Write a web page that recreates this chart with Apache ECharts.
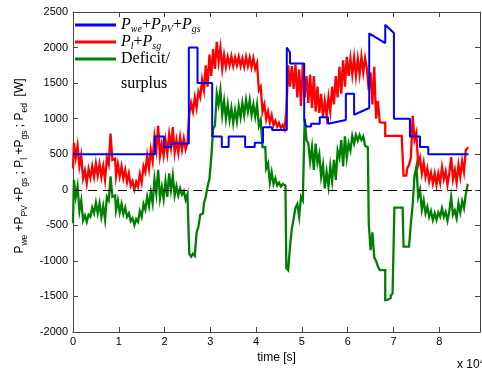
<!DOCTYPE html>
<html>
<head>
<meta charset="utf-8">
<script src="https://cdn.jsdelivr.net/npm/echarts@6/dist/echarts.min.js"></script>
<style>
  html, body { margin: 0; padding: 0; background: #fff; }
  #chart { width: 482px; height: 372px; }
</style>
</head>
<body>
<div id="chart"></div>
<script>
// Logged samples are 400 s apart, starting at t = 0 s.
const sampleStep = 400;

// P_l + P_sg  [W]
const loadPower = [
  300, 660, 450, 620, 330, 480, 160, 270, 90, 290,
  170, 330, 180, 370, 200, 360, 180, 330, 140, 450,
  360, 790, 420, 440, 190, 360, 190, 330, 160, 280,
  110, 230, 60, 120, 5, 110, 40, 220, 100, 330,
  250, 480, 300, 560, 400, 750, 560, 900, 480, 650,
  480, 700, 510, 780, 600, 880, 520, 700, 520, 740,
  560, 720, 570, 660, 1060, 1220, 1100, 1300, 1150, 1380,
  1300, 1550, 1400, 1750, 1450, 1900, 1600, 1980, 1700, 2080,
  1800, 2000, 1700, 1900, 1730, 1870, 1750, 1880, 1740, 1860,
  1750, 1870, 1740, 1850, 1730, 1870, 1740, 1860, 1720, 1850,
  1700, 1780, 1400, 1450, 1100, 1200, 990, 1100, 950, 1050,
  910, 970, 890, 940, 870, 910, 850, 1100, 1750, 1450,
  1740, 1420, 1760, 1300, 1690, 1180, 1780, 1300, 1600, 1220,
  1620, 1150, 1600, 1100, 1450, 1080, 1350, 1030, 1250, 1040,
  1300, 1100, 1450, 1200, 1600, 1300, 1730, 1350, 1820, 1450,
  1870, 1600, 1850, 1620, 1860, 1600, 1840, 1620, 1870, 1650,
  1850, 1700, 1400, 1650, 1200, 1730, 1000, 1250, 950, 945,
  945, 758, 758, 758, 758, 758, 758, 758, 758, 758,
  758, 200, 200, 300, 350, 450, 1040, 700, 800, 350,
  450, 230, 380, 180, 300, 120, 240, 90, 230, 70,
  230, 100, 320, 150, 260, 70, 240, 460, 150, 280,
  100, 350, 180, 400, 250, 560, 590
];

// Deficit / surplus  [W]
const surplusPower = [
  -470, 140, -100, 50, -300, -150, -430, -360, -450, -350,
  -380, -250, -330, -180, -330, -190, -380, -230, -420, -100,
  -150, 190, -100, -80, -290, -150, -320, -200, -340, -250,
  -380, -330, -440, -400, -495, -410, -450, -300, -380, -200,
  -280, -100, -230, -30, -190, 150, -50, 280, -120, 40,
  -130, 120, -100, 230, 0, 200, -80, 50, -80, 20,
  -70, -20, -140, -60, -900, -940, -900, -930, -600, -520,
  -350, -330, -190, -100, 50, 150, 450, 850, 900, 1350,
  1200, 1400, 1050, 1250, 1000, 1200, 980, 1150, 940, 1120,
  960, 1180, 1020, 1220, 1050, 1265, 1100, 1265, 1050, 1200,
  1030, 1200, 900, 980, 600, 600, 300, 370, 100, 250,
  80, 160, 60, 100, 45, 80, 60, -1100, -1130, -800,
  -550, -400, -250, -200, -380, -100, -150, 1000, 700, 650,
  400, 600, 280, 650, 380, 500, 185, 350, 20, 250,
  50, 330, 120, 420, 140, 550, 450, 700, 330, 750,
  450, 650, 550, 760, 650, 770, 690, 770, 700, 750,
  620, 600, -470, -850, -600, -950, -1000, -1080, -1130, -1130,
  -1130, -1552, -1545, -1520, -1490, -1458, -252, -252, -252, -252,
  -252, -800, -800, -800, -800, -472, -200, 200, 325, -100,
  0, -280, -150, -330, -240, -380, -300, -425, -330, -425,
  -320, -380, -260, -380, -310, -435, -300, -100, -350, -290,
  -400, -190, -320, -160, -260, -60, 70
];

// P_we + P_PV + P_gs  [W], piecewise profile: breakpoint times [s] and values
const supplyTimes = [
  0, 17900, 17900, 19900, 19900, 21500, 21500, 25300, 25300, 27200,
  27200, 30400, 30400, 32500, 32500, 34000, 34000, 37600, 37600, 39700,
  39700, 41500, 41500, 43500, 43500, 46700, 46700, 47400, 47400, 50500,
  50500, 50900, 50900, 52000, 52000, 53900, 53900, 55700, 55700, 59600,
  59600, 61400, 61400, 64700, 64700, 68200, 68200, 70100, 70100, 73600,
  73600, 75800, 75800, 77600, 77600, 86400
];
const supplyPower = [
  500, 500, 750, 750, 600, 600, 650, 650, 2000, 2000,
  1500, 1500, 750, 750, 600, 600, 750, 750, 600, 600,
  660, 660, 880, 880, 840, 840, 2000, 1930, 1775, 1775,
  990, 990, 890, 890, 930, 930, 1020, 1020, 930, 980,
  1350, 1350, 1055, 1150, 2200, 2063, 2320, 2204, 1000, 1000,
  750, 750, 600, 600, 500, 500
];

// Axis settings
const timeMax = 88900;
const timeInterval = 10000;
const powerMin = -2000;
const powerMax = 2500;
const powerInterval = 500;

const seriesNames = ['supply', 'load', 'balance'];

const sans = '"Liberation Sans", Arial, sans-serif';
const serif = '"Liberation Serif", "Times New Roman", serif';
const frameColor = '#444';

const withTime = (values) => values.map((v, i) => [i * sampleStep, v]);
const supplyData = supplyTimes.map((t, i) => [t, supplyPower[i]]);

const tickLabel = { fontFamily: sans, fontSize: 11, color: '#000' };

function frameAxis(extra) {
  return Object.assign({
    type: 'value',
    axisLine: { show: true, onZero: false, lineStyle: { color: frameColor, width: 1 } },
    axisTick: { show: true, inside: true, length: 5, lineStyle: { color: frameColor, width: 1 } },
    splitLine: { show: false }
  }, extra);
}

const legendText = {
  supply: '{p|P}{s|we}{n|+}{p|P}{s|PV}{n|+}{p|P}{s|gs}',
  load: '{p|P}{s|l}{n|+}{p|P}{s|sg}',
  balance: '{n|Deficit/}'
};

const chart = echarts.init(document.getElementById('chart'), null, { renderer: 'canvas' });

chart.setOption({
  animation: false,
  backgroundColor: '#fff',
  grid: { left: 73, right: 2, top: 12, bottom: 40 },
  xAxis: [
    frameAxis({
      position: 'bottom', min: 0, max: timeMax, interval: timeInterval,
      axisLabel: Object.assign({}, tickLabel, {
        margin: 4, showMaxLabel: false,
        formatter: (v) => String(v / 10000)
      }),
      name: 'time [s]', nameLocation: 'middle', nameGap: 19,
      nameTextStyle: { fontFamily: sans, fontSize: 12, color: '#000' }
    }),
    frameAxis({
      position: 'top', min: 0, max: timeMax, interval: timeInterval,
      axisLabel: { show: false }
    })
  ],
  yAxis: [
    frameAxis({
      position: 'left', min: powerMin, max: powerMax, interval: powerInterval,
      axisLabel: Object.assign({}, tickLabel, { margin: 5, formatter: (v) => String(v) }),
      name: '{p|P}{s|we}{p| +P}{s|PV}{p| +P}{s|gs}{p| ; P}{s|l}{p| +P}{s|gs}{p| ; P}{s|ed}{p|  [W]}',
      nameLocation: 'middle', nameRotate: 90, nameGap: 42,
      nameTextStyle: {
        color: '#000',
        padding: [0, 0, 0, 12],
        rich: {
          p: { fontFamily: sans, fontSize: 12, lineHeight: 18, color: '#000' },
          s: { fontFamily: sans, fontSize: 8.5, verticalAlign: 'bottom', color: '#000' }
        }
      }
    }),
    frameAxis({
      position: 'right', min: powerMin, max: powerMax, interval: powerInterval,
      axisLabel: { show: false }
    })
  ],
  legend: {
    data: seriesNames,
    orient: 'vertical',
    left: 75, top: 17,
    padding: 0,
    itemGap: 0,
    itemWidth: 41, itemHeight: 3,
    icon: 'rect',
    selectedMode: false,
    formatter: (name) => legendText[name],
    textStyle: {
      color: '#000',
      rich: {
        p: { fontFamily: serif, fontStyle: 'italic', fontSize: 16, lineHeight: 18, color: '#000' },
        s: { fontFamily: serif, fontStyle: 'italic', fontSize: 10, verticalAlign: 'bottom', color: '#000' },
        n: { fontFamily: serif, fontSize: 16, lineHeight: 18, color: '#000' }
      }
    }
  },
  graphic: [
    {
      type: 'text', left: 121, top: 76, silent: true,
      style: { text: 'surplus', font: '16px ' + serif, fill: '#000' }
    },
    {
      type: 'text', left: 457, top: 358, silent: true,
      style: {
        text: '{a|x 10}{b|4}',
        fill: '#000',
        rich: {
          a: { fontFamily: sans, fontSize: 12, lineHeight: 14 },
          b: { fontFamily: sans, fontSize: 8, verticalAlign: 'top' }
        }
      }
    }
  ],
  series: [
    {
      name: 'supply', type: 'line', data: supplyData,
      showSymbol: false, symbol: 'none', z: 4,
      color: '#0000ff',
      lineStyle: { color: '#0000ff', width: 2 }
    },
    {
      name: 'load', type: 'line', data: withTime(loadPower),
      step: 'middle',
      showSymbol: false, symbol: 'none', z: 3,
      color: '#ff0000',
      lineStyle: { color: '#ff0000', width: 2.3, join: 'miter' }
    },
    {
      name: 'balance', type: 'line', data: withTime(surplusPower),
      step: 'middle',
      showSymbol: false, symbol: 'none', z: 3,
      color: '#008000',
      lineStyle: { color: '#008000', width: 2.3, join: 'miter' },
      markLine: {
        silent: true, symbol: 'none', label: { show: false },
        lineStyle: { color: '#000', width: 1, type: [9, 6] },
        data: [{ yAxis: 0 }]
      }
    }
  ]
});
</script>
</body>
</html>
